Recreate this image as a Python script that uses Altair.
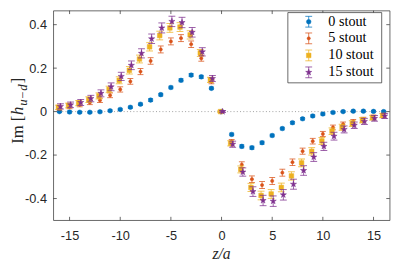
import altair as alt
import pandas as pd

# ---------------- data ----------------
z = list(range(-16, 17))
names = ["0 stout", "5 stout", "10 stout", "15 stout"]

v0 = [0.000, -0.002, -0.003, -0.003, -0.001, 0.004, 0.010, 0.020, 0.034, 0.053, 0.078,
      0.111, 0.144, 0.168, 0.160, 0.107, 0.000,
      -0.105, -0.160, -0.166, -0.143, -0.110, -0.078, -0.051, -0.033, -0.020, -0.011,
      -0.004, 0.000, 0.002, 0.002, 0.001, 0.000]
v5 = [0.015, 0.022, 0.031, 0.042, 0.052, 0.075, 0.102, 0.139, 0.184, 0.233, 0.286,
      0.323, 0.338, 0.310, 0.245, 0.138, 0.000,
      -0.138, -0.244, -0.311, -0.338, -0.319, -0.281, -0.233, -0.182, -0.136, -0.103,
      -0.073, -0.058, -0.046, -0.035, -0.025, -0.016]
v10 = [0.020, 0.028, 0.039, 0.055, 0.072, 0.102, 0.144, 0.190, 0.242, 0.298, 0.350,
       0.385, 0.389, 0.353, 0.270, 0.146, 0.000,
       -0.146, -0.266, -0.349, -0.386, -0.379, -0.349, -0.296, -0.236, -0.183, -0.135,
       -0.090, -0.072, -0.055, -0.040, -0.028, -0.018]
v15 = [0.024, 0.031, 0.042, 0.060, 0.084, 0.114, 0.162, 0.213, 0.268, 0.335, 0.385,
       0.415, 0.410, 0.365, 0.275, 0.152, 0.000,
       -0.150, -0.278, -0.368, -0.409, -0.412, -0.383, -0.334, -0.271, -0.209, -0.160,
       -0.113, -0.082, -0.063, -0.045, -0.031, -0.020]

e0 = [0.004, 0.004, 0.004, 0.004, 0.004, 0.004, 0.005, 0.005, 0.005, 0.006, 0.006,
      0.006, 0.007, 0.007, 0.007, 0.006, 0.002,
      0.006, 0.007, 0.007, 0.007, 0.006, 0.006, 0.006, 0.005, 0.005, 0.005,
      0.004, 0.004, 0.004, 0.004, 0.004, 0.004]
e5 = [0.008, 0.009, 0.009, 0.010, 0.010, 0.011, 0.012, 0.013, 0.014, 0.015, 0.016,
      0.016, 0.016, 0.015, 0.013, 0.010, 0.003,
      0.010, 0.013, 0.015, 0.016, 0.016, 0.016, 0.015, 0.014, 0.013, 0.012,
      0.011, 0.010, 0.010, 0.009, 0.009, 0.008]
e10 = [0.010, 0.011, 0.012, 0.013, 0.014, 0.015, 0.016, 0.017, 0.018, 0.019, 0.020,
       0.020, 0.020, 0.019, 0.016, 0.012, 0.003,
       0.012, 0.016, 0.019, 0.020, 0.020, 0.020, 0.019, 0.018, 0.017, 0.016,
       0.015, 0.014, 0.013, 0.012, 0.011, 0.010]
e15 = [0.012, 0.013, 0.014, 0.015, 0.016, 0.018, 0.019, 0.020, 0.021, 0.022, 0.023,
       0.024, 0.024, 0.022, 0.019, 0.014, 0.004,
       0.014, 0.019, 0.022, 0.024, 0.024, 0.024, 0.023, 0.022, 0.020, 0.019,
       0.018, 0.016, 0.015, 0.014, 0.013, 0.012]

x_shift = [0.0, 0.0, -0.1, 0.1]
xticks = [-15, -10, -5, 0, 5, 10, 15]
yticks = [-0.4, -0.2, 0, 0.2, 0.4]

values = [v0, v5, v10, v15]
errors = [e0, e5, e10, e15]

# ---------------- style ----------------
colors = ["#0072BD", "#D95319", "#EDB120", "#7E2F8E"]
STAR = ("M0,-1L0.2245,-0.309L0.9511,-0.309L0.3633,0.118L0.5878,0.809L0,0.382"
        "L-0.5878,0.809L-0.3633,0.118L-0.9511,-0.309L-0.2245,-0.309Z")
shapes = ["circle", "circle", "square", STAR]
sizes = [22, 11, 22, 44]
capw = [5, 6, 7, 7]
AX = "#262626"

W, H = 343.4, 214
xs = alt.Scale(domain=[-16.6, 16.6], nice=False, zero=False)
ys = alt.Scale(domain=[-0.5, 0.4645], nice=False, zero=False)
one = pd.DataFrame({"k": [0]})

xaxis = alt.Axis(values=xticks, ticks=False, tickSize=0, domain=False, grid=False,
                 labelFont="Liberation Sans", labelFontSize=13, labelColor=AX,
                 labelPadding=10, title=None, format="d",
                 labelExpr="replace(datum.label, '\u2212', '-')")
yaxis = alt.Axis(values=yticks, ticks=False, tickSize=0, domain=False, grid=False,
                 labelFont="Liberation Sans", labelFontSize=13, labelColor=AX,
                 labelPadding=7, title=None,
                 labelExpr="datum.value == 0 ? '0' : replace(format(datum.value, '.1f'), '\u2212', '-')")

def XQ(field):
    return alt.X(field, scale=xs, axis=xaxis, title=None)

def YQ(field):
    return alt.Y(field, scale=ys, axis=yaxis, title=None)

layers = []

# dotted zero line
layers.append(alt.Chart(one).mark_rule(color="#A0A0A0", strokeDash=[1, 2.3], strokeWidth=1)
              .encode(y=alt.Y(datum=0, scale=ys, axis=yaxis, title=None)))

# inward ticks
xt = pd.DataFrame({"t": xticks})
yt = pd.DataFrame({"t": yticks})
TL = 3.5
layers.append(alt.Chart(xt).mark_rule(color=AX, strokeWidth=0.7).encode(
    x=XQ("t:Q"), y=alt.value(H), y2=alt.value(H - TL)))
layers.append(alt.Chart(xt).mark_rule(color=AX, strokeWidth=0.7).encode(
    x=XQ("t:Q"), y=alt.value(0), y2=alt.value(TL)))
layers.append(alt.Chart(yt).mark_rule(color=AX, strokeWidth=0.7).encode(
    y=YQ("t:Q"), x=alt.value(0), x2=alt.value(TL)))
layers.append(alt.Chart(yt).mark_rule(color=AX, strokeWidth=0.7).encode(
    y=YQ("t:Q"), x=alt.value(W - TL), x2=alt.value(W)))

# series
for i, name in enumerate(names):
    df = pd.DataFrame({
        "zx": [zz + x_shift[i] for zz in z],
        "v": values[i],
        "lo": [a - b for a, b in zip(values[i], errors[i])],
        "hi": [a + b for a, b in zip(values[i], errors[i])],
    })
    c = colors[i]
    layers.append(alt.Chart(df).mark_rule(color=c, strokeWidth=0.9, opacity=0.85).encode(
        x=XQ("zx:Q"), y=YQ("lo:Q"), y2="hi:Q"))
    for col in ["lo", "hi"]:
        layers.append(alt.Chart(df).mark_tick(color=c, orient="horizontal", size=capw[i],
                                              thickness=0.9, opacity=0.85).encode(
            x=XQ("zx:Q"), y=YQ(f"{col}:Q")))
    layers.append(alt.Chart(df).mark_point(filled=True, color=c, shape=shapes[i], size=sizes[i],
                                           opacity=1, strokeWidth=0.5, stroke=c).encode(
        x=XQ("zx:Q"), y=YQ("v:Q")))

# legend
LX0, LX1, LY0, LY1 = 239.4, 335.2, 2, 73.7
layers.append(alt.Chart(one).mark_rect(fill="white", stroke=AX, strokeWidth=0.7).encode(
    x=alt.value(LX0), x2=alt.value(LX1), y=alt.value(LY0), y2=alt.value(LY1)))
row_y = [11.3, 28.3, 45.7, 63.0]
SX, TX = 260.7, 280.7
for i, name in enumerate(names):
    c = colors[i]
    yc = row_y[i]
    layers.append(alt.Chart(one).mark_rule(color=c, strokeWidth=0.9, opacity=0.85).encode(
        x=alt.value(SX), y=alt.value(yc - 5.5), y2=alt.value(yc + 5.5)))
    for dy in (-5.5, 5.5):
        layers.append(alt.Chart(one).mark_rule(color=c, strokeWidth=0.9, opacity=0.85).encode(
            x=alt.value(SX - 3.5), x2=alt.value(SX + 3.5), y=alt.value(yc + dy)))
    layers.append(alt.Chart(one).mark_point(filled=True, color=c, shape=shapes[i], size=sizes[i],
                                            opacity=1, strokeWidth=0.5, stroke=c).encode(
        x=alt.value(SX), y=alt.value(yc)))
    layers.append(alt.Chart(one).mark_text(text=name, font="Liberation Serif", fontSize=14.5,
                                           color="black", align="left", baseline="middle").encode(
        x=alt.value(TX), y=alt.value(yc)))

# axis titles
layers.append(alt.Chart(one).mark_text(text="z/a", font="Liberation Serif", fontSize=16,
                                       fontStyle="italic", color=AX, align="center",
                                       baseline="alphabetic").encode(
    x=alt.value(171.7), y=alt.value(253.7)))
TBX = -30.5
layers.append(alt.Chart(one).mark_text(text="Im [", font="Liberation Serif", fontSize=17,
                                       color=AX, align="left", baseline="alphabetic", angle=270).encode(
    x=alt.value(TBX), y=alt.value(136)))
layers.append(alt.Chart(one).mark_text(text="h", font="Liberation Serif", fontSize=17,
                                       fontStyle="italic", color=AX, align="left",
                                       baseline="alphabetic", angle=270).encode(
    x=alt.value(TBX), y=alt.value(106.5)))
layers.append(alt.Chart(one).mark_text(text="u\u2212d", font="Liberation Serif", fontSize=13,
                                       fontStyle="italic", color=AX, align="left",
                                       baseline="alphabetic", angle=270).encode(
    x=alt.value(TBX + 3.5), y=alt.value(97)))
layers.append(alt.Chart(one).mark_text(text="]", font="Liberation Serif", fontSize=17,
                                       color=AX, align="left", baseline="alphabetic", angle=270).encode(
    x=alt.value(TBX), y=alt.value(74)))

chart = alt.layer(*layers).properties(
    width=W, height=H,
    autosize=alt.AutoSizeParams(type="none"),
    padding={"left": 46.3, "right": 1.3, "top": 0, "bottom": 45},
).configure_view(stroke=AX, strokeWidth=0.7)

chart.save("out.html", embed_options={"renderer": "svg", "actions": False})
